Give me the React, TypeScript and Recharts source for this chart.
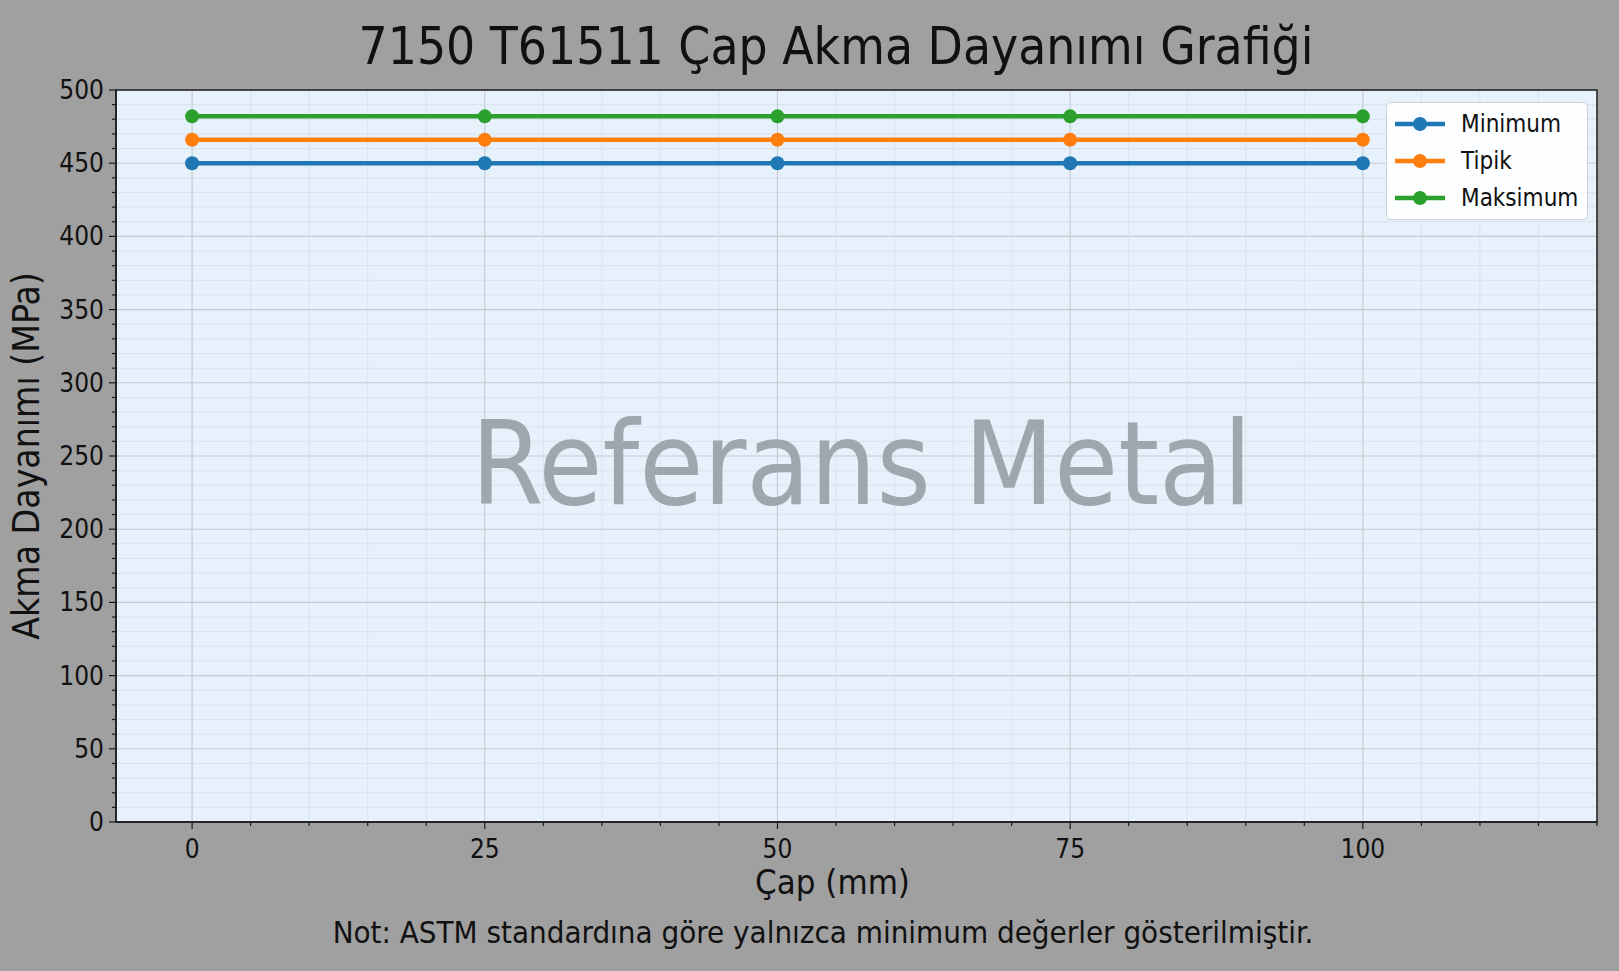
import { LineChart, Line, XAxis, YAxis, CartesianGrid, Legend, ReferenceArea, Label } from 'recharts';

const capMm = [0, 25, 50, 75, 100];
const minimum = [450, 450, 450, 450, 450];
const tipik = [466, 466, 466, 466, 466];
const maksimum = [482, 482, 482, 482, 482];

const xMajorTicks = [0, 25, 50, 75, 100];
const xMinorTicks = [5, 10, 15, 20, 30, 35, 40, 45, 55, 60, 65, 70, 80, 85, 90, 95, 105, 110, 115, 120];
const yMajorTicks = [0, 50, 100, 150, 200, 250, 300, 350, 400, 450, 500];
const yMinorTicks = [10, 20, 30, 40, 60, 70, 80, 90, 110, 120, 130, 140, 160, 170, 180, 190, 210, 220, 230, 240, 260, 270, 280, 290, 310, 320, 330, 340, 360, 370, 380, 390, 410, 420, 430, 440, 460, 470, 480, 490];

const X_DOMAIN: [number, number] = [-6.5, 120];
const Y_DOMAIN: [number, number] = [0, 500];

const series = [
  { key: 'min', name: 'Minimum', color: '#1f77b4', values: minimum },
  { key: 'typ', name: 'Tipik', color: '#ff7f0e', values: tipik },
  { key: 'max', name: 'Maksimum', color: '#2ca02c', values: maksimum },
];

const data = capMm.map((cap, i) => ({
  cap,
  min: minimum[i],
  typ: tipik[i],
  max: maksimum[i],
}));

const FONT = "'DejaVu Sans Condensed', 'DejaVu Sans', sans-serif";
const textStyle = { fontFamily: FONT, fontStretch: 'condensed' as const };

const xAll = [...xMajorTicks, ...xMinorTicks].sort((a, b) => a - b);
const yAll = [...yMajorTicks, ...yMinorTicks].sort((a, b) => a - b);

const XTick = (props: any) => {
  const { x, y, payload } = props;
  const major = xMajorTicks.includes(payload.value);
  return (
    <g>
      <line x1={x} x2={x} y1={y} y2={y + (major ? 7 : 4)} stroke="#1a1a1a" strokeWidth={1.2} />
      {major && (
        <text x={x} y={y + 36} textAnchor="middle" fontSize={26} fill="#111" style={textStyle}>
          {payload.value}
        </text>
      )}
    </g>
  );
};

const YTick = (props: any) => {
  const { x, y, payload } = props;
  const major = yMajorTicks.includes(payload.value);
  return (
    <g>
      <line x1={x} x2={x - (major ? 7 : 4)} y1={y} y2={y} stroke="#1a1a1a" strokeWidth={1.2} />
      {major && (
        <text x={x - 12} y={y + 9} textAnchor="end" fontSize={26} fill="#111" style={textStyle}>
          {payload.value}
        </text>
      )}
    </g>
  );
};

// grid line style picked from the value the line sits on
const HLine = (props: any) => {
  const { x1, x2, y1, y, height } = props;
  const v = ((y + height - y1) / height) * (Y_DOMAIN[1] - Y_DOMAIN[0]) + Y_DOMAIN[0];
  const major = Math.abs(v / 50 - Math.round(v / 50)) < 0.02;
  return (
    <line x1={x1} x2={x2} y1={y1} y2={y1} stroke={major ? '#c3cad2' : '#d5e0eb'} strokeWidth={major ? 1.1 : 0.8} />
  );
};

const VLine = (props: any) => {
  const { x1, y1, y2, x, width } = props;
  const v = ((x1 - x) / width) * (X_DOMAIN[1] - X_DOMAIN[0]) + X_DOMAIN[0];
  const major = Math.abs(v / 25 - Math.round(v / 25)) < 0.01;
  return (
    <line x1={x1} x2={x1} y1={y1} y2={y2} stroke={major ? '#c3cad2' : '#d5e0eb'} strokeWidth={major ? 1.1 : 0.8} />
  );
};

const XTitle = (props: any) => {
  const { viewBox } = props;
  return (
    <text x={viewBox.x + viewBox.width / 2 - 24} y={viewBox.y + 72} textAnchor="middle" fontSize={34.5} fill="#111" style={textStyle}>
      Çap (mm)
    </text>
  );
};

const YTitle = (props: any) => {
  const { viewBox } = props;
  const cx = 26;
  const cy = viewBox.y + viewBox.height / 2;
  return (
    <text
      x={cx}
      y={cy}
      transform={`rotate(-90, ${cx}, ${cy})`}
      textAnchor="middle"
      dominantBaseline="central"
      fontSize={37}
      fill="#111"
      style={textStyle}
    >
      Akma Dayanımı (MPa)
    </text>
  );
};

const Watermark = (props: any) => {
  const { viewBox } = props;
  return (
    <text
      x={viewBox.x + viewBox.width / 2 + 5}
      y={viewBox.y + viewBox.height / 2 + 48}
      textAnchor="middle"
      fontSize={116}
      fill="#a0a6ad"
      style={textStyle}
    >
      Referans Metal
    </text>
  );
};

const LegendBox = () => (
  <div
    style={{
      background: 'rgba(255,255,255,0.88)',
      border: '1px solid #cfd3d7',
      borderRadius: 5,
      padding: '2px 8px 3px 8px',
      width: 184,
      fontFamily: FONT,
      fontStretch: 'condensed',
    }}
  >
    {series.map((s) => (
      <div key={s.key} style={{ display: 'flex', alignItems: 'center', height: 37 }}>
        <svg width={50} height={16} style={{ marginRight: 16 }}>
          <line x1={0} x2={50} y1={8} y2={8} stroke={s.color} strokeWidth={4.5} />
          <circle cx={25} cy={8} r={7} fill={s.color} />
        </svg>
        <span style={{ fontSize: 24, color: '#111' }}>{s.name}</span>
      </div>
    ))}
  </div>
);

export default function App() {
  return (
    <div
      style={{
        position: 'absolute',
        left: 0,
        top: 0,
        width: 1619,
        height: 971,
        background: '#a0a0a0',
        overflow: 'hidden',
      }}
    >
      <LineChart width={1619} height={971} data={data} margin={{ top: 90, right: 22, bottom: 0, left: 0 }}>
        <CartesianGrid fill="#e6f1fb" horizontal={HLine} vertical={VLine} />
        <XAxis
          dataKey="cap"
          type="number"
          domain={X_DOMAIN}
          ticks={xAll}
          interval={0}
          allowDataOverflow
          height={149}
          tickSize={0}
          tickMargin={0}
          tickLine={false}
          tick={<XTick />}
          axisLine={{ stroke: '#1a1a1a', strokeWidth: 1.5 }}
        >
          <Label content={<XTitle />} />
        </XAxis>
        <YAxis
          type="number"
          domain={Y_DOMAIN}
          ticks={yAll}
          interval={0}
          allowDataOverflow
          width={116}
          tickSize={0}
          tickMargin={0}
          tickLine={false}
          tick={<YTick />}
          axisLine={{ stroke: '#1a1a1a', strokeWidth: 1.5 }}
        >
          <Label content={<YTitle />} />
        </YAxis>
        <ReferenceArea
          x1={X_DOMAIN[0]}
          x2={X_DOMAIN[1]}
          y1={Y_DOMAIN[0]}
          y2={Y_DOMAIN[1]}
          fill="none"
          stroke="#1a1a1a"
          strokeWidth={1.5}
        >
          <Label content={<Watermark />} />
        </ReferenceArea>
        {series.map((s) => (
          <Line
            key={s.key}
            dataKey={s.key}
            name={s.name}
            stroke={s.color}
            strokeWidth={4.5}
            dot={{ r: 7, fill: s.color, stroke: s.color, strokeWidth: 0 }}
            isAnimationActive={false}
          />
        ))}
        <Legend
          layout="horizontal"
          verticalAlign="middle"
          align="center"
          content={<LegendBox />}
          wrapperStyle={{ position: 'absolute', top: 102, left: 1386, width: 'auto', bottom: 'auto', right: 'auto' }}
        />
      </LineChart>
      <svg width={1619} height={971} style={{ position: 'absolute', left: 0, top: 0, pointerEvents: 'none' }}>
        <text x={836} y={64} textAnchor="middle" fontSize={51} fill="#111" style={textStyle}>
          7150 T61511 Çap Akma Dayanımı Grafiği
        </text>
        <text x={823} y={943} textAnchor="middle" fontSize={31} fill="#111" style={textStyle}>
          Not: ASTM standardına göre yalnızca minimum değerler gösterilmiştir.
        </text>
      </svg>
    </div>
  );
}
